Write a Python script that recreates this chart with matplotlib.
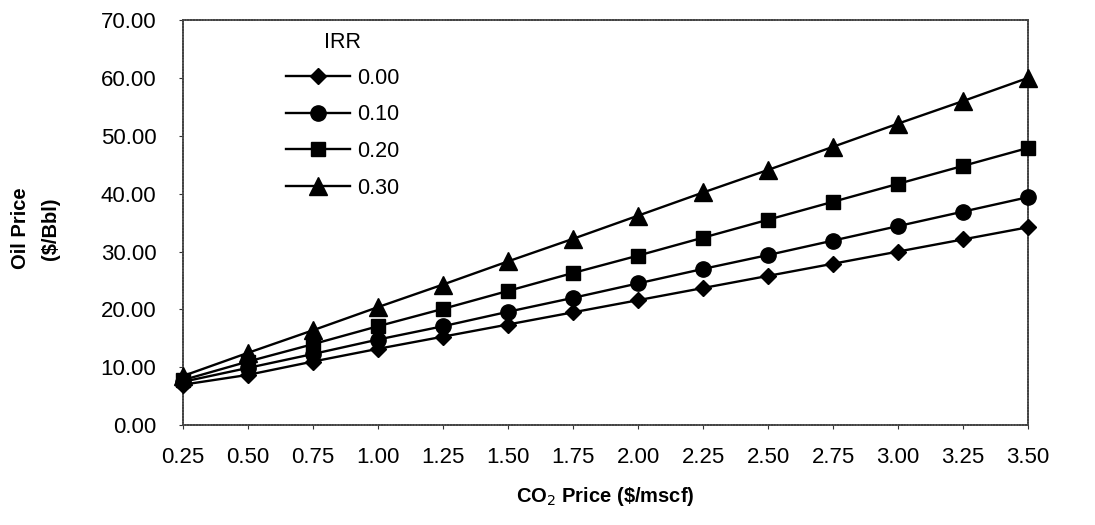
import numpy as np
import matplotlib.pyplot as plt

plt.rcParams['font.family'] = ['Liberation Sans', 'DejaVu Sans']

# CO2 price categories ($/mscf)
co2_price = ['0.25', '0.50', '0.75', '1.00', '1.25', '1.50', '1.75',
             '2.00', '2.25', '2.50', '2.75', '3.00', '3.25', '3.50']

# oil price ($/Bbl) for each IRR
irr_000 = [7.0, 8.7, 11.0, 13.2, 15.3, 17.4, 19.5, 21.6, 23.7, 25.8, 27.9, 30.0, 32.1, 34.2]
irr_010 = [7.5, 9.9, 12.3, 14.8, 17.1, 19.6, 22.0, 24.5, 27.0, 29.4, 31.9, 34.4, 36.9, 39.4]
irr_020 = [7.8, 11.0, 14.0, 17.1, 20.1, 23.2, 26.3, 29.3, 32.4, 35.5, 38.6, 41.7, 44.8, 47.9]
irr_030 = [8.5, 12.5, 16.4, 20.4, 24.3, 28.3, 32.2, 36.2, 40.2, 44.1, 48.1, 52.1, 56.0, 60.0]

series = [('0.00', irr_000, 'D', 8.5),
          ('0.10', irr_010, 'o', 11),
          ('0.20', irr_020, 's', 10.5),
          ('0.30', irr_030, '^', 12.5)]

fig = plt.figure(figsize=(10.95, 5.25), dpi=100)
ax = fig.add_axes([0.167, 0.19, 0.772, 0.772])

x = np.arange(len(co2_price))
for lab, y, m, ms in series:
    ax.plot(x, y, color='black', linewidth=1.7, marker=m, markersize=ms,
            markerfacecolor='black', markeredgecolor='black', label=lab,
            clip_on=False, zorder=3)

ax.set_xlim(0, len(co2_price) - 1)
ax.set_ylim(0, 70)
ax.set_xticks(x)
ax.set_xticklabels(co2_price)
ax.set_yticks(np.arange(0, 71, 10))
ax.set_yticklabels(['%.2f' % v for v in np.arange(0, 71, 10)])
ax.tick_params(labelsize=16, length=3, color='#333333')
ax.tick_params(axis='y', pad=16)
ax.tick_params(axis='x', pad=13)

# dotted-looking frame like the scanned original
for s in ax.spines.values():
    s.set_linestyle((0, (1, 0.6)))
    s.set_linewidth(1.3)
    s.set_color('#444444')

ax.set_xlabel(r'CO$_2$ Price (\$/mscf)', fontsize=14.5, fontweight='bold', labelpad=12)
fig.text(0.010, 0.565, 'Oil Price', rotation=90, fontsize=14.5, fontweight='bold',
         ha='left', va='center')
fig.text(0.037, 0.565, '($/Bbl)', rotation=90, fontsize=14.5, fontweight='bold',
         ha='left', va='center')

leg = fig.legend(title='IRR', loc='upper left', bbox_to_anchor=(0.261, 0.94),
                 frameon=False, fontsize=15.5, title_fontsize=15.5,
                 handlelength=3.0, handletextpad=0.3, labelspacing=0.72,
                 borderpad=0.0, borderaxespad=0.0)

plt.savefig('out.png', dpi=100)
